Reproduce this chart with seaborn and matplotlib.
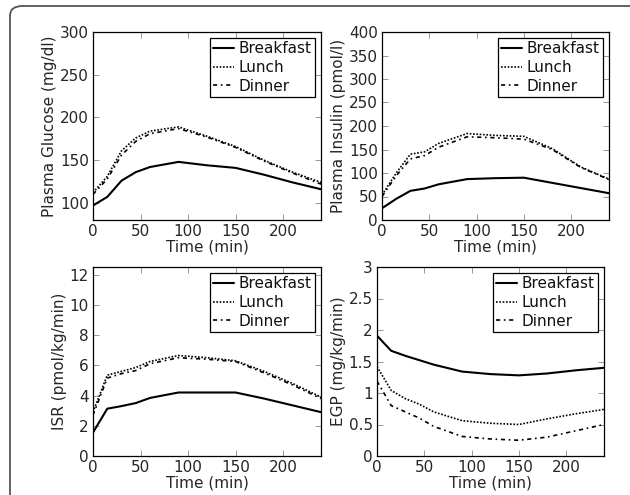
import matplotlib
matplotlib.use("Agg")
import matplotlib.pyplot as plt
from matplotlib.patches import FancyBboxPatch
from matplotlib.ticker import FormatStrFormatter, MultipleLocator
import seaborn as sns

# Sampling times (min) after the meal
times = [0, 15, 30, 45, 60, 90, 120, 150, 180, 210, 240]
meals = ["Breakfast", "Lunch", "Dinner"]

glucose_breakfast = [97, 107, 126, 136, 142, 148, 144, 141, 133, 124, 116]
glucose_lunch = [112, 131, 161, 176, 184, 189, 178, 166, 150, 136, 124]
glucose_dinner = [110, 128, 156, 172, 181, 187, 177, 165, 149, 135, 122]

insulin_breakfast = [25, 45, 62, 67, 76, 87, 89, 90, 79, 68, 57]
insulin_lunch = [53, 100, 140, 145, 163, 184, 180, 178, 152, 113, 87]
insulin_dinner = [50, 94, 130, 137, 155, 177, 175, 172, 150, 112, 86]

isr_breakfast = [1.55, 3.13, 3.3, 3.5, 3.84, 4.2, 4.2, 4.2, 3.8, 3.35, 2.9]
isr_lunch = [2.9, 5.35, 5.6, 5.85, 6.25, 6.65, 6.5, 6.3, 5.6, 4.8, 3.9]
isr_dinner = [2.7, 5.15, 5.45, 5.65, 6.1, 6.5, 6.4, 6.25, 5.5, 4.7, 3.8]

egp_breakfast = [1.91, 1.67, 1.59, 1.52, 1.45, 1.34, 1.30, 1.28, 1.31, 1.36, 1.40]
egp_lunch = [1.42, 1.04, 0.91, 0.82, 0.70, 0.56, 0.52, 0.50, 0.59, 0.67, 0.74]
egp_dinner = [1.19, 0.80, 0.70, 0.60, 0.47, 0.31, 0.27, 0.25, 0.30, 0.40, 0.50]

panels = [
    ("Plasma Glucose (mg/dl)", [glucose_breakfast, glucose_lunch, glucose_dinner], (80, 300), 50),
    ("Plasma Insulin (pmol/l)", [insulin_breakfast, insulin_lunch, insulin_dinner], (0, 400), 50),
    ("ISR (pmol/kg/min)", [isr_breakfast, isr_lunch, isr_dinner], (0, 12.5), 2),
    ("EGP (mg/kg/min)", [egp_breakfast, egp_lunch, egp_dinner], (0, 3), 0.5),
]

sns.set_style("ticks")
plt.rcParams["font.family"] = ["DejaVu Sans"]
plt.rcParams["axes.edgecolor"] = "black"
plt.rcParams["text.color"] = "#111111"

W, H = 630, 495
fig = plt.figure(figsize=(W / 100, H / 100), dpi=100)

# axes boxes in pixels: left, right, top, bottom
boxes = [
    (93, 321, 32, 220),
    (382, 609, 32, 220),
    (93, 321, 267, 456),
    (377, 604, 267, 456),
]

styles = {
    "Breakfast": dict(linestyle="-", linewidth=1.5),
    "Lunch": dict(linestyle=(0, (1, 1)), linewidth=1.2),
    "Dinner": dict(linestyle=(0, (2.5, 2.2, 1, 2.2)), linewidth=1.2),
}

# rounded outer frame around the whole figure
frame = FancyBboxPatch((10 / W, -0.2), 1.2, 1.2 - 6 / H,
                       boxstyle="round,pad=0,rounding_size=0.02",
                       transform=fig.transFigure, fill=False,
                       edgecolor="#555555", linewidth=1.3)
fig.patches.append(frame)

FS = 11
for (ylabel, series, ylim, step), (l, r, t, b) in zip(panels, boxes):
    ax = fig.add_axes([l / W, 1 - b / H, (r - l) / W, (b - t) / H])
    for meal, vals in zip(meals, series):
        sns.lineplot(x=times, y=vals, ax=ax, color="black", label=meal,
                     **styles[meal])
    ax.set_xlim(0, 240)
    ax.set_ylim(*ylim)
    ax.xaxis.set_major_locator(MultipleLocator(50))
    ax.yaxis.set_major_locator(MultipleLocator(step))
    ax.yaxis.set_major_formatter(FormatStrFormatter("%g"))
    ax.set_xlabel("Time (min)", fontsize=FS, labelpad=0)
    ax.set_ylabel(ylabel, fontsize=FS, labelpad=2)
    ax.tick_params(direction="in", top=True, right=True, length=4,
                   width=0.6, color="#888888", labelsize=FS, pad=3)
    for sp in ax.spines.values():
        sp.set_linewidth(0.9)
    leg = ax.legend(loc="upper right", fontsize=FS, frameon=True,
                    fancybox=False, edgecolor="black", framealpha=1,
                    borderpad=0.2, labelspacing=0.25, handlelength=1.4,
                    handletextpad=0.3, borderaxespad=0.4)
    leg.get_frame().set_linewidth(0.9)

fig.savefig("out.png", dpi=100)
